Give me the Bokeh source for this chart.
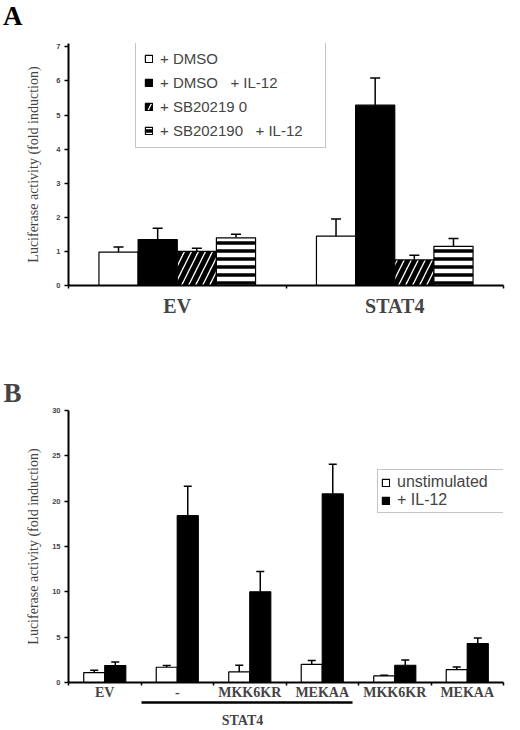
from bokeh.plotting import figure
from bokeh.models import (Range1d, LinearAxis, FixedTicker, ColumnDataSource, Whisker, TeeHead,
                          Div)
from bokeh.transform import dodge
from bokeh.layouts import column
from bokeh.embed import file_html
from bokeh.resources import INLINE

# panel A: fold induction, bar height and upper error (sd)
groups_a = ["EV", "STAT4"]
dmso = [0.98, 1.45]
dmso_sd = [0.15, 0.50]
dmso_il12 = [1.35, 5.29]
dmso_il12_sd = [0.33, 0.80]
sb = [1.00, 0.75]
sb_sd = [0.09, 0.14]
sb_il12 = [1.40, 1.15]
sb_il12_sd = [0.10, 0.23]

# panel B
groups_b = ["EV", "-", "MKK6KR", "MEKAA", "MKK6KR", "MEKAA"]
unstim = [1.10, 1.68, 1.17, 2.01, 0.73, 1.43]
unstim_sd = [0.26, 0.19, 0.73, 0.41, 0.08, 0.29]
il12 = [1.87, 18.4, 10.0, 20.8, 1.90, 4.29]
il12_sd = [0.40, 3.25, 2.23, 3.27, 0.59, 0.62]

SANS = "Liberation Sans"
SERIF = "Liberation Serif"


def centers(groups):
    return [i + 0.5 for i in range(len(groups))]


def add_bars(p, groups, vals, sds, offset, width, label, head, **style):
    src = ColumnDataSource(dict(pos=centers(groups), val=vals,
                                top=[v + s for v, s in zip(vals, sds)]))
    x = dodge("pos", offset)
    p.vbar(x=x, top="val", width=width, source=src, line_color="black",
           line_width=1.2, legend_label=label, **style)
    p.add_layout(Whisker(source=src, base=x, upper="top", lower="val",
                         line_color="black", line_width=1.5, lower_head=None,
                         upper_head=TeeHead(size=head, line_color="black", line_width=1.5)))


def setup(p, groups, ticks, als, cat_size, cat_standoff):
    n = len(groups)
    p.grid.grid_line_color = None
    p.outline_line_color = None

    ya = p.yaxis[0]
    ya.ticker = FixedTicker(ticks=ticks)
    ya.minor_tick_line_color = None
    ya.major_tick_in = 0
    ya.major_tick_out = 4
    ya.major_label_standoff = 4
    ya.axis_line_width = 2
    ya.major_tick_line_width = 1.5
    ya.major_label_text_font = SANS
    ya.major_label_text_font_style = "bold"
    ya.major_label_text_font_size = "7.5px"
    ya.axis_label = "Luciferase activity (fold induction)"
    ya.axis_label_text_font = SERIF
    ya.axis_label_text_font_style = "normal"
    ya.axis_label_text_font_size = "14px"
    ya.axis_label_standoff = als

    # group names under the bars, small ticks between the groups
    c = centers(groups)
    name_axis = LinearAxis(ticker=FixedTicker(ticks=c, minor_ticks=list(range(n + 1))),
                           major_label_overrides=dict(zip(c, groups)),
                           axis_line_width=2, major_tick_line_color=None,
                           major_tick_in=0, major_tick_out=0,
                           minor_tick_in=0, minor_tick_out=3, minor_tick_line_width=1.5,
                           major_label_standoff=cat_standoff, major_label_text_font=SERIF,
                           major_label_text_font_style="bold",
                           major_label_text_font_size=cat_size)
    p.add_layout(name_axis, "below")


def style_legend(leg, loc, font_size, padding, spacing, label_width):
    leg.location = loc
    leg.border_line_color = "#8c8c8c"
    leg.border_line_width = 1
    leg.background_fill_alpha = 1
    leg.label_text_font = SANS
    leg.label_text_font_size = font_size
    leg.glyph_width = 9
    leg.glyph_height = 9
    leg.label_standoff = 7
    leg.label_height = 16
    leg.label_width = label_width
    leg.padding = padding
    leg.spacing = spacing
    leg.margin = 0


# ---- panel letter A (its own strip above panel A)
letter_a = Div(text='<div style="font-family: \'Liberation Serif\'; font-size: 27px; '
                    'font-weight: bold; line-height: 27px; padding: 3px 0 0 3px;">A</div>',
               width=520, height=30, margin=0)

# ---- panel A
pa = figure(width=520, height=300, x_range=Range1d(0, len(groups_a)), y_range=Range1d(0, 7.1),
            x_axis_location=None, toolbar_location=None, output_backend="svg",
            min_border_left=68, min_border_right=2, min_border_top=13, min_border_bottom=45)
setup(pa, groups_a, list(range(8)), 12, "20px", 6)

w = 0.18
add_bars(pa, groups_a, dmso, dmso_sd, -0.27, w, "+ DMSO", 10, fill_color="white")
add_bars(pa, groups_a, dmso_il12, dmso_il12_sd, -0.09, w, "+ DMSO   + IL-12", 10,
         fill_color="black")
add_bars(pa, groups_a, sb, sb_sd, 0.09, w, "+ SB20219 0", 10, fill_color="white",
         hatch_pattern="right_diagonal_line", hatch_color="black", hatch_scale=14,
         hatch_weight=5)
add_bars(pa, groups_a, sb_il12, sb_il12_sd, 0.27, w, "+ SB202190   + IL-12", 10,
         fill_color="white", hatch_pattern="horizontal_line", hatch_color="black",
         hatch_scale=8, hatch_weight=3.5)
style_legend(pa.legend[0], (67, 137), "15px", 8, 7, 157)

# ---- panel B
pb = figure(width=520, height=400, x_range=Range1d(0, len(groups_b)), y_range=Range1d(0, 30),
            x_axis_location=None, toolbar_location=None, output_backend="svg",
            min_border_left=68, min_border_right=17, min_border_top=80, min_border_bottom=47)
setup(pb, groups_b, list(range(0, 31, 5)), 8, "14px", -1)
pb.title.text = "B"
pb.title.text_font = SERIF
pb.title.text_font_size = "27px"
pb.title.text_font_style = "bold"
pb.title.align = "left"
pb.title.offset = -65
pb.title.standoff = 6
# bracket under the three STAT4 groups
stat4_axis = LinearAxis(bounds=(1, 3.92), ticker=FixedTicker(ticks=[2.4]),
                        major_label_overrides={2.4: "STAT4"}, major_tick_line_color=None,
                        major_tick_in=0, major_tick_out=0, minor_tick_line_color=None,
                        axis_line_width=2.5, major_label_standoff=10,
                        major_label_text_font=SERIF, major_label_text_font_style="bold",
                        major_label_text_font_size="14px")
pb.add_layout(stat4_axis, "below")

w = 0.29
add_bars(pb, groups_b, unstim, unstim_sd, -0.145, w, "unstimulated", 8, fill_color="white")
add_bars(pb, groups_b, il12, il12_sd, 0.145, w, "+ IL-12", 8, fill_color="black")
style_legend(pb.legend[0], (309, 169), "16px", 3, 0, 103)

layout = column(letter_a, pa, pb)
open("out.html", "w").write(file_html(layout, INLINE))
